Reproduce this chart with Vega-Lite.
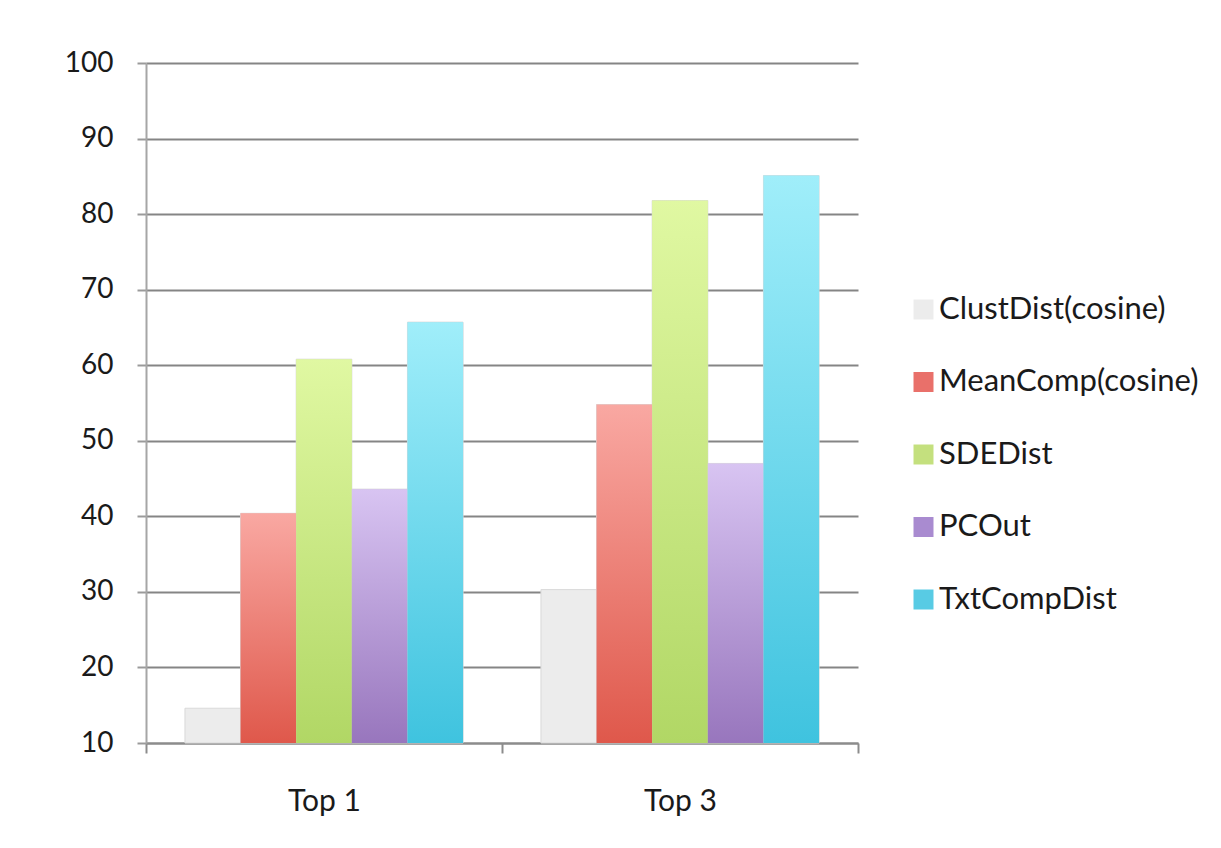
{
  "$schema": "https://vega.github.io/schema/vega-lite/v6.json",
  "autosize": {"type": "none"},
  "padding": {"left": 146, "top": 63, "right": 363, "bottom": 105},
  "width": 712,
  "height": 680,
  "background": "white",
  "config": {
    "view": {"stroke": null},
    "font": "Lato",
    "axis": {"labelFont": "Lato", "labelColor": "#1a1a1a", "title": null}
  },
  "data": {
    "values": [
      {"group": "Top 1", "method": "ClustDist(cosine)", "accuracy": 14.6},
      {"group": "Top 1", "method": "MeanComp(cosine)", "accuracy": 40.4},
      {"group": "Top 1", "method": "SDEDist", "accuracy": 60.8},
      {"group": "Top 1", "method": "PCOut", "accuracy": 43.6},
      {"group": "Top 1", "method": "TxtCompDist", "accuracy": 65.7},
      {"group": "Top 3", "method": "ClustDist(cosine)", "accuracy": 30.3},
      {"group": "Top 3", "method": "MeanComp(cosine)", "accuracy": 54.8},
      {"group": "Top 3", "method": "SDEDist", "accuracy": 81.8},
      {"group": "Top 3", "method": "PCOut", "accuracy": 47.0},
      {"group": "Top 3", "method": "TxtCompDist", "accuracy": 85.1}
    ]
  },
  "encoding": {
    "x": {
      "field": "group",
      "type": "nominal",
      "scale": {"paddingInner": 0, "paddingOuter": 0},
      "axis": {
        "labelAngle": 0,
        "labelFontSize": 30,
        "labelPadding": 33,
        "tickBand": "extent",
        "tickSize": 10,
        "tickColor": "#8c8c8c",
        "tickWidth": 2,
        "domainColor": "#8c8c8c",
        "domainWidth": 2,
        "grid": false
      }
    },
    "xOffset": {
      "field": "method",
      "type": "nominal",
      "sort": ["ClustDist(cosine)", "MeanComp(cosine)", "SDEDist", "PCOut", "TxtCompDist"],
      "scale": {"paddingInner": 0, "paddingOuter": 0.7}
    },
    "y": {
      "field": "accuracy",
      "type": "quantitative",
      "scale": {"domain": [10, 100], "nice": false, "zero": false},
      "axis": {
        "values": [10, 20, 30, 40, 50, 60, 70, 80, 90, 100],
        "labelFontSize": 28,
        "labelPadding": 24,
        "tickSize": 9,
        "tickColor": "#9a9a9a",
        "tickWidth": 2,
        "domainColor": "#a6a6a6",
        "domainWidth": 2,
        "grid": true,
        "gridColor": "#858585",
        "gridWidth": 2
      }
    },
    "y2": {"datum": 10}
  },
  "layer": [
    {
      "mark": {"type": "bar", "stroke": "#d9d9d9", "strokeWidth": 1},
      "encoding": {
        "color": {
          "field": "method",
          "type": "nominal",
          "sort": ["ClustDist(cosine)", "MeanComp(cosine)", "SDEDist", "PCOut", "TxtCompDist"],
          "scale": {
            "domain": ["ClustDist(cosine)", "MeanComp(cosine)", "SDEDist", "PCOut", "TxtCompDist"],
            "range": ["#ececec", "#e9706a", "#c4e07e", "#a98bd0", "#58cbe4"]
          },
          "legend": {
            "title": null,
            "orient": "none",
            "legendX": 762,
            "legendY": 231,
            "symbolType": "square",
            "symbolSize": 400,
            "symbolStrokeWidth": 0,
            "labelFont": "Lato",
            "labelFontSize": 31,
            "labelColor": "#1a1a1a",
            "labelOffset": 0,
            "rowPadding": 40.5,
            "labelLimit": 400
          }
        }
      }
    },
    {
      "transform": [{"filter": "datum.method === 'MeanComp(cosine)'"}],
      "mark": {
        "type": "bar",
        "color": {
          "gradient": "linear", "x1": 0, "y1": 0, "x2": 0, "y2": 1,
          "stops": [{"offset": 0, "color": "#f9a8a2"}, {"offset": 1, "color": "#df584b"}]
        }
      }
    },
    {
      "transform": [{"filter": "datum.method === 'SDEDist'"}],
      "mark": {
        "type": "bar",
        "color": {
          "gradient": "linear", "x1": 0, "y1": 0, "x2": 0, "y2": 1,
          "stops": [{"offset": 0, "color": "#e0f8a2"}, {"offset": 1, "color": "#b1d765"}]
        }
      }
    },
    {
      "transform": [{"filter": "datum.method === 'PCOut'"}],
      "mark": {
        "type": "bar",
        "color": {
          "gradient": "linear", "x1": 0, "y1": 0, "x2": 0, "y2": 1,
          "stops": [{"offset": 0, "color": "#d8c4f2"}, {"offset": 1, "color": "#9876bd"}]
        }
      }
    },
    {
      "transform": [{"filter": "datum.method === 'TxtCompDist'"}],
      "mark": {
        "type": "bar",
        "color": {
          "gradient": "linear", "x1": 0, "y1": 0, "x2": 0, "y2": 1,
          "stops": [{"offset": 0, "color": "#a0eefa"}, {"offset": 1, "color": "#3fc3df"}]
        }
      }
    }
  ]
}
